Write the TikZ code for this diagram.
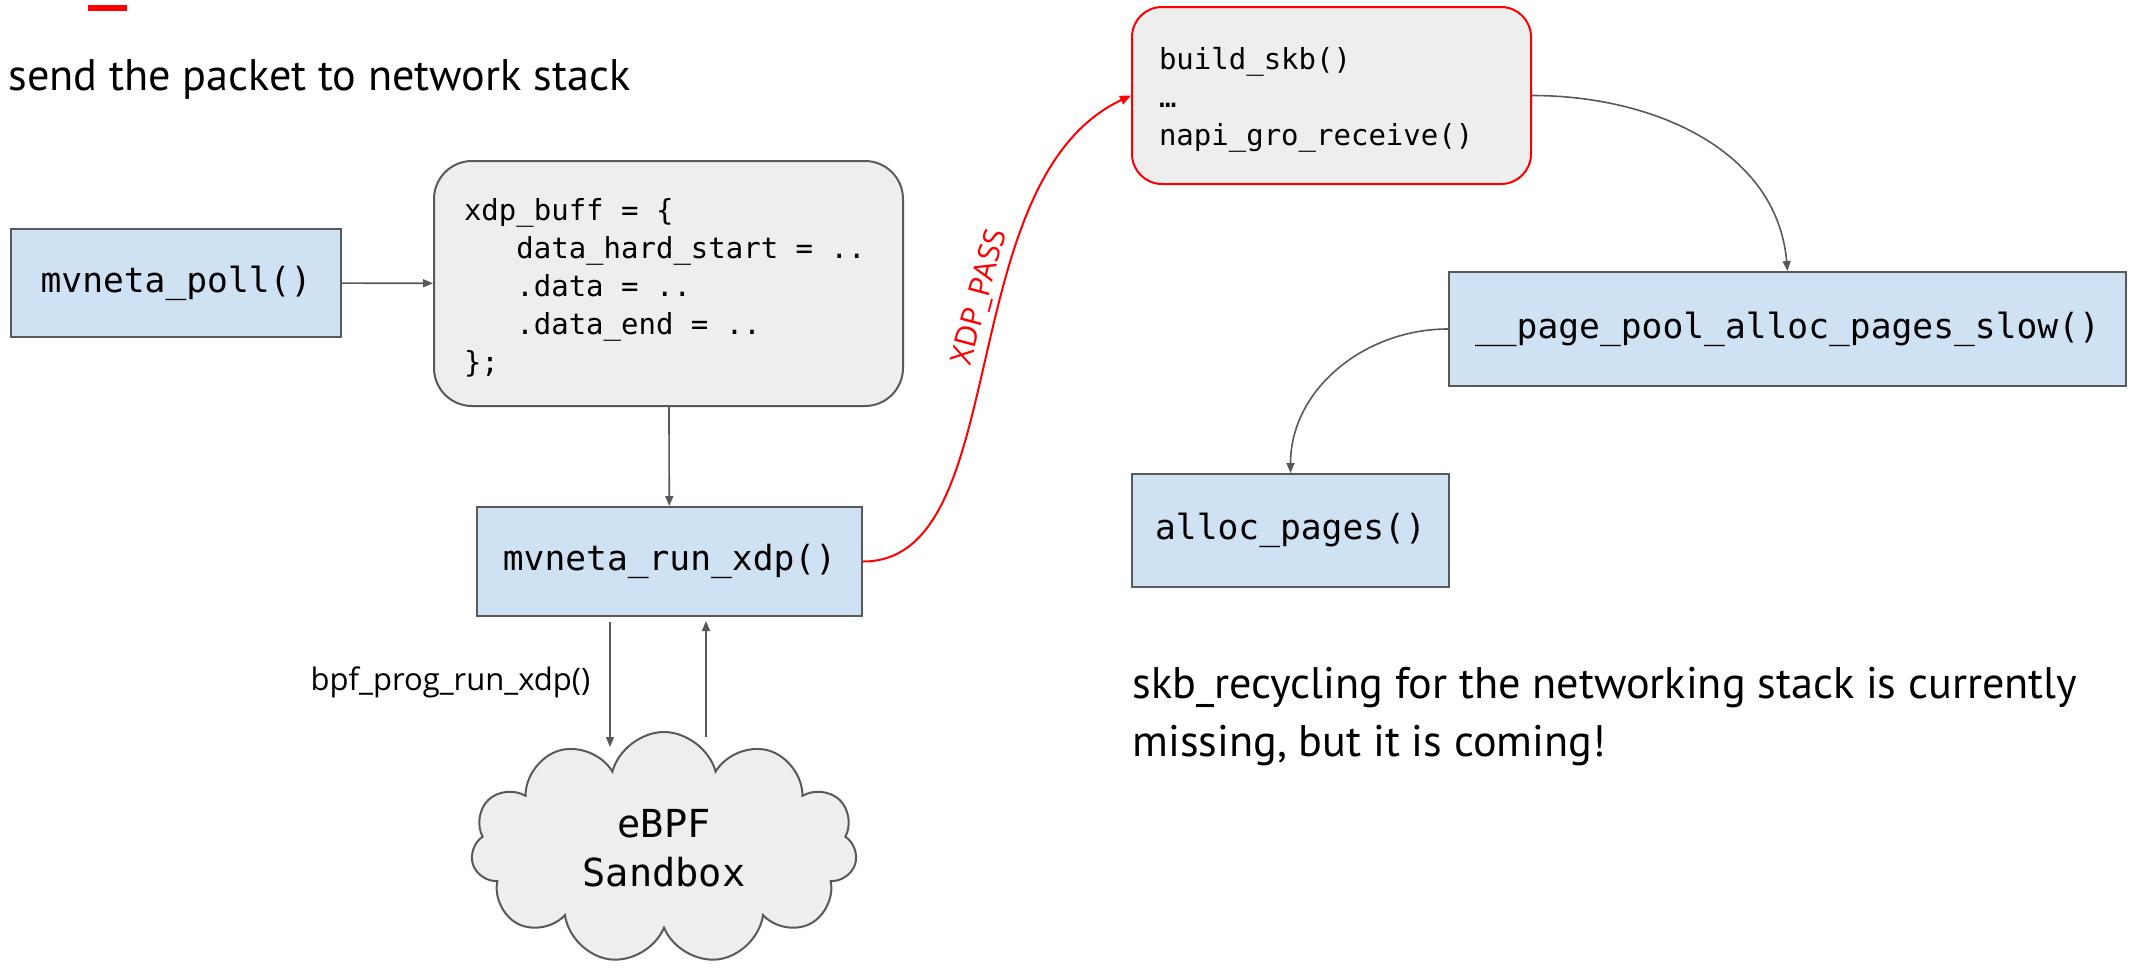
\documentclass[tikz,border=0pt]{standalone}
\usepackage{fontspec}
\setmainfont{PT Sans}
\setsansfont{Open Sans}
\setmonofont{DejaVu Sans Mono}
\usetikzlibrary{arrows.meta,shapes.symbols}
\definecolor{fnblue}{HTML}{CFE2F3}
\definecolor{codegray}{HTML}{EEEEEE}
\definecolor{edgegray}{HTML}{595959}
\definecolor{passred}{HTML}{FF0000}
\tikzset{
  fnbox/.style={draw=edgegray, line width=1pt, fill=fnblue, inner sep=0pt,
    font=\ttfamily\fontsize{17.3}{20}\selectfont},
  codebox/.style={draw=edgegray, line width=1pt, fill=codegray, align=left,
    inner ysep=0pt, font=\ttfamily\fontsize{14.5}{19}\selectfont,
    execute at begin node={\spaceskip=0pt\xspaceskip=0pt\rule{0pt}{15pt}}},
  conn/.style={-{Triangle[length=5pt,width=4pt]}, edgegray, line width=0.8pt},
  passconn/.style={-{Triangle[length=5.5pt,width=4.5pt]}, passred, line width=1pt},
  note/.style={inner sep=0pt, align=left, font=\fontsize{22.1}{29}\selectfont}
}
\begin{document}
\begin{tikzpicture}[x=0.5pt, y=0.5pt]
\useasboundingbox (0,0) rectangle (2141,-970);
\fill[passred] (88,-5) rectangle (127,-11);

\node[note, anchor=west] (title) at (8,-79) {send the packet to network stack};

  \node[fnbox, minimum width=165pt, minimum height=54pt] (poll) at (176,-283) {mvneta\_poll()};
  \node[codebox, rounded corners=19pt, inner xsep=15pt, text width=204.5pt, minimum height=122.5pt] (buff) at (668.5,-283.5)
    {xdp\_buff = \{\\
     \phantom{xxx}data\_hard\_start = ..\\
     \phantom{xxx}.data = ..\\
     \phantom{xxx}.data\_end = ..\\
     \};};
  \node[fnbox, minimum width=192.5pt, minimum height=54.5pt] (run) at (669.5,-561.5) {mvneta\_run\_xdp()};
  \node[cloud, cloud puffs=11, aspect=1.7, draw=edgegray, line width=1pt, fill=codegray, inner sep=0pt,
    minimum width=193pt, minimum height=116pt, align=center,
    font=\ttfamily\fontsize{19.3}{24.5}\selectfont] (sandbox) at (664,-848) {eBPF\\Sandbox};
    \coordinate (dn) at (610,-747);
    \coordinate (up) at (706,-737);

  \node[codebox, draw=passred, rounded corners=15pt, inner xsep=13.5pt, text width=172.5pt, minimum height=88.5pt] (build) at (1331.5,-95.5)
    {build\_skb()\\ …\\ napi\_gro\_receive()};
  \node[fnbox, minimum width=338.5pt, minimum height=57pt] (pool) at (1787.5,-329) {\_\_page\_pool\_alloc\_pages\_slow()};
  \node[fnbox, minimum width=158.5pt, minimum height=56.5pt] (alloc) at (1290.5,-530.5) {alloc\_pages()};

\node[note, anchor=west] (missing) at (1132,-717) {skb\_recycling for the networking stack is currently\\missing, but it is coming!};

  \draw [conn] (poll) -- (buff);
  \draw [conn] (buff) -- (run);
  \draw [conn, shorten <=2.5pt] (dn |- run.south) -- node [left, text=black, inner sep=9.5pt, font=\sffamily\fontsize{15.5}{18}\selectfont] {bpf\_prog\_run\_xdp()} (dn);
  \draw [conn, shorten >=2pt] (up) -- (up |- run.south);
  \draw [passconn] (run.east) .. controls +(152,0) and +(-181,-85) .. node [sloped, above, pos=0.59, inner sep=3.5pt, font=\sffamily\fontsize{15}{18}\selectfont] {XDP\_PASS} (build.west);
  \draw [conn] (build.east) to [out=0, in=95] (pool.north);
  \draw [conn] (pool.west) to [out=180, in=90] (alloc.north);
\end{tikzpicture}
\end{document}
